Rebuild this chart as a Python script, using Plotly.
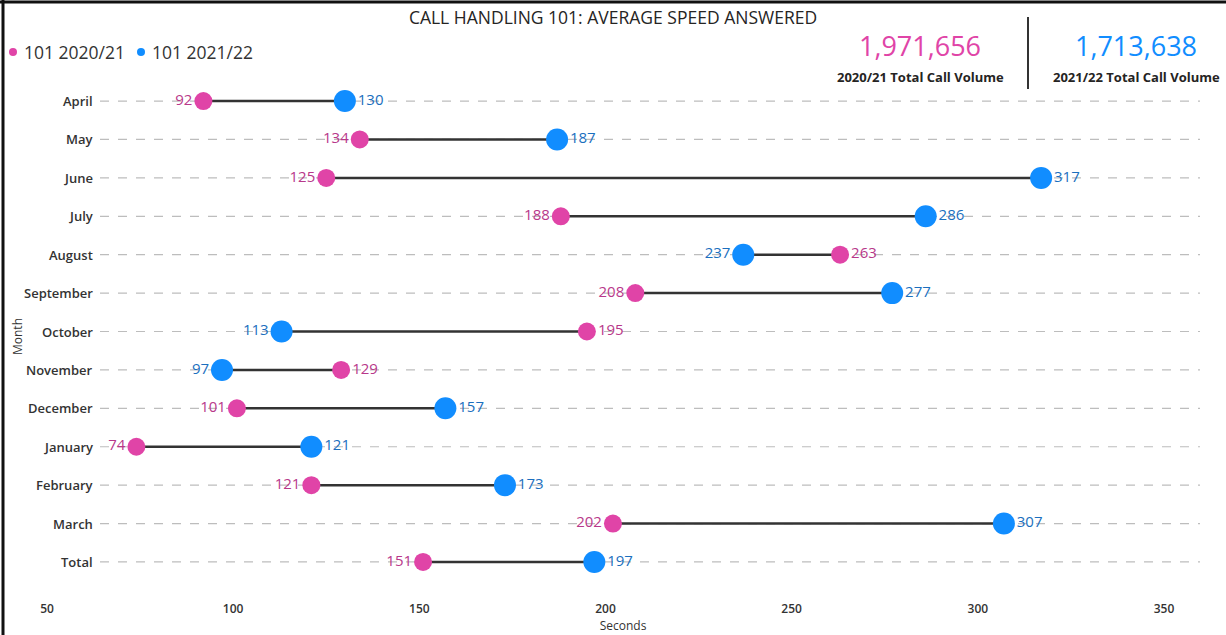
import plotly.graph_objects as go

# data
months = ['April', 'May', 'June', 'July', 'August', 'September', 'October',
          'November', 'December', 'January', 'February', 'March', 'Total']
asa_2021 = [92, 134, 125, 188, 263, 208, 195, 129, 101, 74, 121, 202, 151]
asa_2122 = [130, 187, 317, 286, 237, 277, 113, 97, 157, 121, 173, 307, 197]
x_ticks = [50, 100, 150, 200, 250, 300, 350]
total_2021 = 1971656
total_2122 = 1713638
series_names = ['101 2020/21', '101 2021/22']

PINK = '#E044A7'
BLUE = '#118DFF'
PINK_TXT = '#B8388A'
BLUE_TXT = '#1B6FBE'
FONT = 'Open Sans'

W, H = 1226, 635
L, R, T, B = 40, 20, 88, 45


def px(x):
    # pixel -> paper x
    return (x - L) / (W - L - R)


def py(y):
    # pixel -> paper y
    return (H - B - y) / (H - T - B)


fig = go.Figure()

# connecting lines
lx, ly = [], []
for m, a, b in zip(months, asa_2021, asa_2122):
    lx += [a, b, None]
    ly += [m, m, None]
fig.add_trace(go.Scatter(x=lx, y=ly, mode='lines',
                         line=dict(color='#333333', width=2.5),
                         hoverinfo='skip', showlegend=False))

# dots
fig.add_trace(go.Scatter(x=asa_2021, y=months, mode='markers', name=series_names[0],
                         marker=dict(color=PINK, size=18), showlegend=False))
fig.add_trace(go.Scatter(x=asa_2122, y=months, mode='markers', name=series_names[1],
                         marker=dict(color=BLUE, size=22), showlegend=False))

# value labels (smaller value on the left, larger on the right), hugging the dots
pos_2021 = ['middle left' if a < b else 'middle right' for a, b in zip(asa_2021, asa_2122)]
pos_2122 = ['middle right' if a < b else 'middle left' for a, b in zip(asa_2021, asa_2122)]
for vals, pos, col, sz in [(asa_2021, pos_2021, PINK_TXT, 16), (asa_2122, pos_2122, BLUE_TXT, 19)]:
    fig.add_trace(go.Scatter(
        x=vals, y=months, mode='markers+text',
        marker=dict(size=sz, opacity=0),
        text=[str(v) for v in vals], textposition=pos,
        textfont=dict(color=col, size=15, family=FONT),
        hoverinfo='skip', showlegend=False,
    ))

shapes = []
annotations = []

# dashed gridlines + category labels
for m in months:
    shapes.append(dict(type='line', xref='paper', yref='y', x0=px(100), x1=px(1200),
                       y0=m, y1=m, layer='below',
                       line=dict(color='#BDBDBD', width=1.2, dash='dash')))
    annotations.append(dict(xref='paper', yref='y', x=px(95), y=m, text=m,
                            showarrow=False, xanchor='right', yanchor='middle',
                            font=dict(size=13, color='#333333', family=FONT, weight=600)))

# axis title for y
annotations.append(dict(xref='paper', yref='paper', x=px(17), y=py(337), text='Month',
                        textangle=-90, showarrow=False, xanchor='center', yanchor='middle',
                        font=dict(size=12, color='#333333', family=FONT)))

# legend
for (dot_x, txt_x), name, col in zip([(13, 22), (141, 150)], series_names, [PINK, BLUE]):
    shapes.append(dict(type='circle', xref='paper', yref='paper',
                       x0=px(dot_x - 4), x1=px(dot_x + 4), y0=py(48), y1=py(56),
                       fillcolor=col, line=dict(width=0)))
    annotations.append(dict(xref='paper', yref='paper', x=px(txt_x), y=py(52), xanchor='left',
                            yanchor='middle', showarrow=False, text=name,
                            font=dict(size=17.5, color='#333333', family=FONT)))

# KPI cards
for cx, val, lab, col in [(920, total_2021, '2020/21 Total Call Volume', PINK),
                          (1136, total_2122, '2021/22 Total Call Volume', BLUE)]:
    annotations.append(dict(xref='paper', yref='paper', x=px(cx), y=py(45), text=f'{val:,}',
                            showarrow=False, xanchor='center', yanchor='middle',
                            font=dict(size=27, color=col, family=FONT)))
    annotations.append(dict(xref='paper', yref='paper', x=px(cx), y=py(77), text=lab,
                            showarrow=False, xanchor='center', yanchor='middle',
                            font=dict(size=13, color='#252423', family=FONT, weight=700)))

shapes.append(dict(type='line', xref='paper', yref='paper', x0=px(1028), x1=px(1028),
                   y0=py(17), y1=py(89), line=dict(color='#333333', width=2)))

# frame (left / top)
shapes.append(dict(type='line', xref='paper', yref='paper', x0=px(3), x1=px(3),
                   y0=py(0), y1=py(H), line=dict(color='#111111', width=3)))
shapes.append(dict(type='line', xref='paper', yref='paper', x0=px(0), x1=px(W),
                   y0=py(2), y1=py(2), line=dict(color='#111111', width=3)))

x_scale = (1164 - 47) / (x_ticks[-1] - x_ticks[0])
x_min = x_ticks[0] - (47 - L) / x_scale
x_max = x_ticks[-1] + (W - R - 1164) / x_scale

fig.update_layout(
    width=W, height=H,
    margin=dict(l=L, r=R, t=T, b=B),
    paper_bgcolor='white', plot_bgcolor='white',
    title=dict(text='CALL HANDLING 101: AVERAGE SPEED ANSWERED', x=0.5, xanchor='center',
               xref='container', y=1 - 18 / H, yanchor='middle',
               font=dict(size=17.5, color='#252423', family=FONT)),
    xaxis=dict(range=[x_min, x_max], tickvals=x_ticks, showgrid=False, zeroline=False,
               showline=False, ticks='', ticklabelstandoff=10, automargin=False,
               tickfont=dict(size=12, color='#333333', family=FONT, weight=600),
               title=dict(text='Seconds', font=dict(size=12, color='#333333', family=FONT),
                          standoff=2)),
    yaxis=dict(categoryorder='array', categoryarray=months, automargin=False,
               range=[12.73, -0.34], showticklabels=False, showgrid=False,
               zeroline=False, showline=False, ticks=''),
    shapes=shapes,
    annotations=annotations,
    showlegend=False,
)

# page sits flush with the window edge
fig.write_html('out.html', config={'displayModeBar': False},
               post_script="document.body.style.margin='0';")
